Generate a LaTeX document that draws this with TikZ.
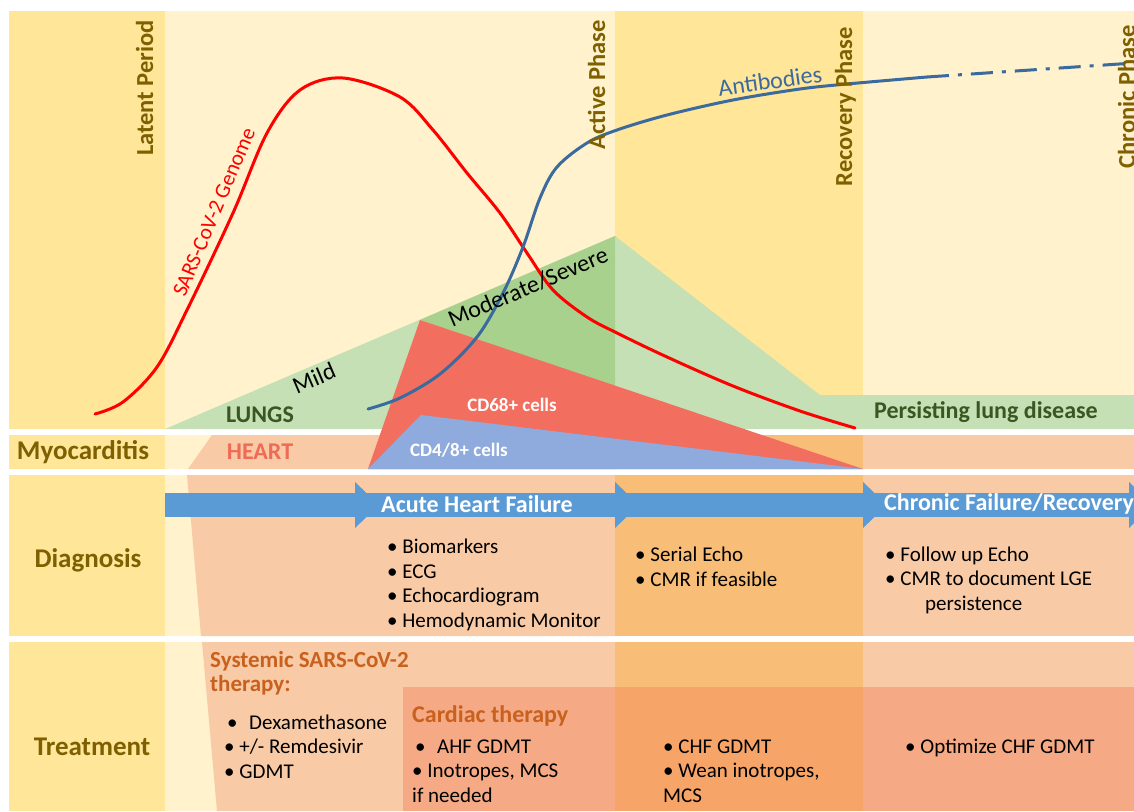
\documentclass[tikz,border=0pt]{standalone}
\usepackage{fontspec}
\setmainfont{Carlito}
\definecolor{gold}{HTML}{FFE699}
\definecolor{cream}{HTML}{FFF2CC}
\definecolor{peach}{HTML}{F9CAA6}
\definecolor{amber}{HTML}{F8BD77}
\definecolor{salmon}{HTML}{F5A984}
\definecolor{tangerine}{HTML}{F6A468}
\definecolor{lunggreen}{HTML}{C5E0B4}
\definecolor{severegreen}{HTML}{A9D18E}
\definecolor{cdred}{HTML}{F26E5E}
\definecolor{cdblue}{HTML}{8FAADC}
\definecolor{bandblue}{HTML}{5B9BD5}
\definecolor{abblue}{HTML}{3A6A9E}
\definecolor{olive}{HTML}{7F6000}
\definecolor{leafgreen}{HTML}{385723}
\definecolor{rust}{HTML}{C8611E}
\definecolor{heartred}{HTML}{EF6B55}
\tikzset{
  phase/.style={rotate=90, anchor=base east, inner sep=0pt, text=olive,
    font=\bfseries\fontsize{24.5}{24.5}\selectfont},
  rowlabel/.style={inner sep=0pt, text=olive, font=\bfseries\fontsize{27}{27}\selectfont},
  organ/.style={inner sep=0pt, font=\bfseries\fontsize{24}{24}\selectfont},
  severity/.style={inner sep=0pt, rotate=23.2, font=\fontsize{24}{24}\selectfont},
  cellcount/.style={inner sep=0pt, text=white, font=\bfseries\fontsize{19}{19}\selectfont},
  bandtext/.style={inner sep=0pt, text=white, font=\bfseries\fontsize{24}{24}\selectfont},
  items/.style={inner sep=0pt, anchor=base west, align=left,
    font=\fontsize{21}{24.5}\selectfont},
  therapy/.style={inner sep=0pt, anchor=base west, align=left, text=rust,
    font=\bfseries\fontsize{23}{24}\selectfont},
  curve/.style={line width=3pt, line cap=round}
}
\newcommand{\bul}{\textbullet\ }
\begin{document}
\begin{tikzpicture}[x=1pt,y=-1pt]
  \useasboundingbox (0,0) rectangle (1134,811);
  \clip (0,0) rectangle (1134,811);
  \fill[white] (0,0) rectangle (1134,811);

  % column backgrounds, one row band at a time
  \foreach \ya/\yb in {11/429, 435/469, 475/636, 642/811} {
    \fill[gold]  (9,\ya)   rectangle (165,\yb);
    \fill[cream] (165,\ya) rectangle (615,\yb);
  }
  \fill[gold]  (615,11) rectangle (863,429);
  \fill[cream] (863,11) rectangle (1134,429);

  % heart and clinical course bands
  \fill[peach] (212,435) -- (615,435) -- (615,469) -- (188,469) -- cycle;
  \fill[peach] (187,475) -- (615,475) -- (615,636) -- (201,636) -- cycle;
  \fill[peach] (202,642) -- (615,642) -- (615,811) -- (217,811) -- cycle;
  \foreach \ya/\yb in {435/469, 475/636, 642/811} {
    \fill[amber] (615,\ya) rectangle (863,\yb);
    \fill[peach] (863,\ya) rectangle (1134,\yb);
  }
  % cardiac therapy block
  \fill[salmon]    (403,687) rectangle (615,811);
  \fill[tangerine] (615,687) rectangle (863,811);
  \fill[salmon]    (863,687) rectangle (1134,811);

  % lung involvement
  \fill[lunggreen] (165,429) -- (615,236) -- (820,395) -- (1134,395)
    -- (1134,429) -- cycle;
  \fill[severegreen] (420,320) -- (615,236) -- (615,387) -- cycle;

  % myocardial infiltrates
  \fill[cdred]  (420,320) -- (368,469) -- (863,469) -- cycle;
  \fill[cdblue] (421,415) -- (368,469) -- (863,469) -- cycle;

  % viral load and antibody response
  \draw[curve, red] plot[smooth, tension=0.55] coordinates {
    (95,414) (123,402) (157,367) (187,310) (233,213) (267,133) (300,90)
    (343,78) (400,97) (433,130) (467,173) (500,213) (527,253) (553,290)
    (587,317) (617,333) (667,357) (733,386) (800,411) (855,428)};
  \draw[curve, abblue] plot[smooth, tension=0.55] coordinates {
    (368,409) (400,398) (440,374) (477,337) (503,293) (523,247) (540,198)
    (557,167) (587,143) (617,130) (667,115) (733,100) (800,89) (847,84)
    (927,77)};
  \draw[curve, abblue, line cap=butt, dash pattern=on 22pt off 9pt on 4pt off 9pt]
    (927,77) -- (1134,63);

  % timeline arrow
  \fill[bandblue] (165,493) rectangle (1134,517);
  \foreach \xb in {355, 615, 863, 1129}
    \fill[bandblue] (\xb,482) -- (\xb+24,505) -- (\xb,528) -- cycle;

  % phase names
  \node[phase] (latent)   at (153,20)  {Latent Period};
  \node[phase] (active)   at (605,20)  {Active Phase};
  \node[phase] (recovery) at (852,27)  {Recovery Phase};
  \node[phase] (chronic)  at (1135,25) {Chronic Phase};

  % row names
  \node[rowlabel] (myo)   at (83,452) {Myocarditis};
  \node[rowlabel] (diag)  at (88,560) {Diagnosis};
  \node[rowlabel] (treat) at (92,747) {Treatment};

  % curve and region labels
  \node[red, inner sep=0pt, rotate=67, font=\fontsize{21.5}{21.5}\selectfont]
    (genome) at (214,212) {SARS-CoV-2 Genome};
  \node[abblue, inner sep=0pt, rotate=8, font=\fontsize{24}{24}\selectfont]
    (antibodies) at (770,81) {Antibodies};
  \node[severity] (mild) at (314,378) {Mild};
  \node[severity] (severe) at (528,287) {Moderate/Severe};
  \node[organ, leafgreen] (lungs) at (260,415) {LUNGS};
  \node[organ, leafgreen] (persist) at (986,412) {Persisting lung disease};
  \node[organ, heartred] (heart) at (260,452) {HEART};
  \node[cellcount] (cd68) at (512,405) {CD68+ cells};
  \node[cellcount] (cd48) at (459,450) {CD4/8+ cells};

  % course of heart failure
  \node[bandtext] (ahf) at (477,504) {Acute Heart Failure};
  \node[bandtext, anchor=west] (chf) at (884,504) {Chronic Failure/Recovery};

  % diagnostics (anchored on the baseline of the last line)
  \node[items] (dxacute) at (387,627)
    {\bul Biomarkers\\\bul ECG\\\bul Echocardiogram\\\bul Hemodynamic Monitor};
  \node[items] (dxactive) at (635,586) {\bul Serial Echo\\\bul CMR if feasible};
  \node[items] (dxchronic) at (885,610)
    {\bul Follow up Echo\\\bul CMR to document LGE\\\hspace*{40pt}persistence};

  % treatment
  \node[therapy] (systemic) at (210,691) {Systemic SARS-CoV-2\\therapy:};
  \node[items] (antiviral) at (224,778)
    {\hspace*{3pt}\textbullet\hspace{0.55em}Dexamethasone\\\bul +/- Remdesivir\\\bul GDMT};
  \node[therapy, font=\bfseries\fontsize{24}{24}\selectfont] (cardiac) at (412,722)
    {Cardiac therapy};
  \node[items] (rxacute) at (412,802)
    {\hspace*{3pt}\textbullet\hspace{0.55em}AHF GDMT\\\bul Inotropes, MCS\\if needed};
  \node[items] (rxactive) at (663,802) {\bul CHF GDMT\\\bul Wean inotropes,\\MCS};
  \node[items] (rxchronic) at (905,753) {\bul Optimize CHF GDMT};
\end{tikzpicture}
\end{document}
